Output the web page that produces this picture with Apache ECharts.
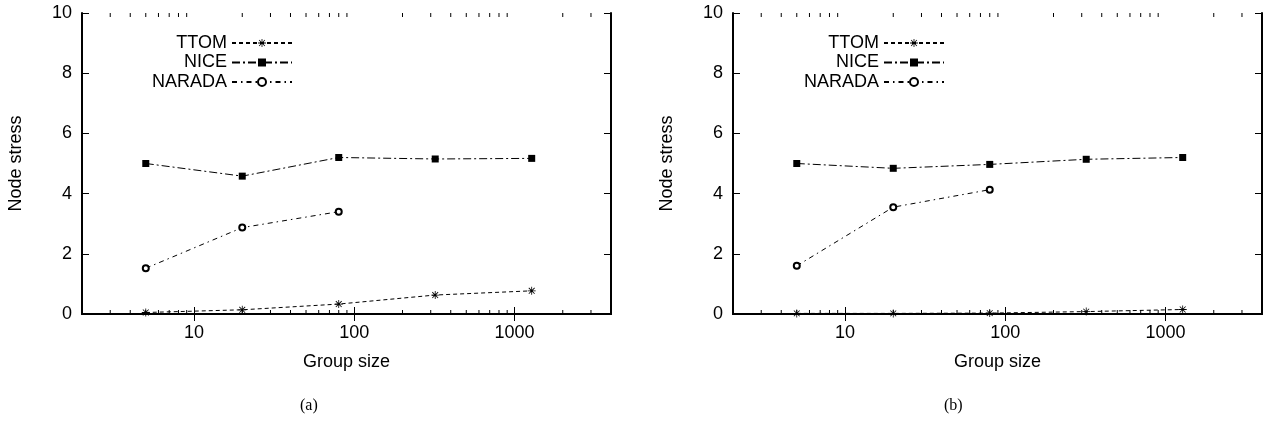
<!DOCTYPE html>
<html>
<head>
<meta charset="utf-8">
<script src="https://cdn.jsdelivr.net/npm/echarts@6/dist/echarts.min.js"></script>
<style>
  html, body { margin: 0; padding: 0; background: #fff; }
  #chart { width: 1265px; height: 424px; }
</style>
</head>
<body>
<div id="chart"></div>
<script>
// group sizes (x, log scale)
const groupSizes = [5, 20, 80, 320, 1280];
const naradaSizes = [5, 20, 80];

// panel (a)
const ttomA = [0.05, 0.14, 0.33, 0.63, 0.77];
const niceA = [5.0, 4.58, 5.2, 5.15, 5.17];
const naradaA = [1.52, 2.87, 3.4];

// panel (b)
const ttomB = [0.02, 0.02, 0.03, 0.08, 0.15];
const niceB = [5.0, 4.84, 4.97, 5.14, 5.2];
const naradaB = [1.6, 3.55, 4.13];

// ticks
const majorXTicks = [10, 100, 1000];
const minorXTicks = [3, 4, 5, 6, 7, 8, 9, 20, 30, 40, 50, 60, 70, 80, 90,
  200, 300, 400, 500, 600, 700, 800, 900, 2000, 3000];
const seriesNames = ['TTOM', 'NICE', 'NARADA'];
const captions = ['(a)', '(b)'];

const FONT = 'Liberation Sans, Arial, sans-serif';
const FS = 18;
const asterisk = 'path://M-0.5 -5L0.5 -5L0.5 5L-0.5 5Z M-5 -0.5L5 -0.5L5 0.5L-5 0.5Z ' +
  'M-4 -3.3L-3.3 -4L4 3.3L3.3 4Z M3.3 -4L4 -3.3L-3.3 4L-4 3.3Z';

const chart = echarts.init(document.getElementById('chart'));

const grids = [
  { left: 82, right: 654, top: 13, bottom: 110 },
  { left: 733, right: 3, top: 13, bottom: 110 },
];

const xAxes = [];
const yAxes = [];
const series = [];
const legends = [];

const pair = (xs, ys) => xs.map((x, i) => [x, ys[i]]);
const panels = [
  { ttom: ttomA, nice: niceA, narada: naradaA, legendRight: 967 },
  { ttom: ttomB, nice: niceB, narada: naradaB, legendRight: 315 },
];

// short log-spaced minor ticks on bottom and top edges
const minorTickItem = (params, api) => {
  const v = api.value(0);
  const b = api.coord([v, 0]);
  const t = api.coord([v, 10]);
  return {
    type: 'group',
    children: [
      { type: 'line', shape: { x1: b[0], y1: b[1], x2: b[0], y2: b[1] - 4 }, style: { stroke: '#000', lineWidth: 1 } },
      { type: 'line', shape: { x1: t[0], y1: t[1], x2: t[0], y2: t[1] + 4 }, style: { stroke: '#000', lineWidth: 1 } },
    ],
  };
};

panels.forEach((p, g) => {
  const base = { type: 'log', gridIndex: g, min: 2, max: 4000, logBase: 10, splitLine: { show: false } };
  xAxes.push(Object.assign({}, base, {
    position: 'bottom',
    axisLine: { show: true, lineStyle: { color: '#000', width: 2 } },
    axisTick: { inside: true, length: 7, customValues: majorXTicks, lineStyle: { color: '#000' } },
    axisLabel: {
      customValues: majorXTicks, color: '#000', fontSize: FS, fontFamily: FONT, margin: 10,
      formatter: (v) => String(v),
    },
    name: 'Group size', nameLocation: 'middle', nameGap: 39,
    nameTextStyle: { color: '#000', fontSize: FS, fontFamily: FONT },
  }));
  xAxes.push(Object.assign({}, base, {
    position: 'top',
    axisLine: { show: true, lineStyle: { color: '#000', width: 2 } },
    axisTick: { inside: true, length: 7, customValues: majorXTicks, lineStyle: { color: '#000' } },
    axisLabel: { show: false },
  }));

  yAxes.push({
    type: 'value', gridIndex: g, min: 0, max: 10, interval: 2, position: 'left',
    axisLine: { show: true, lineStyle: { color: '#000', width: 2 } },
    axisTick: { inside: true, length: 7, lineStyle: { color: '#000' } },
    axisLabel: { color: '#000', fontSize: FS, fontFamily: FONT, margin: 10 },
    splitLine: { show: false },
    name: 'Node stress', nameLocation: 'middle', nameGap: 57,
    nameTextStyle: { color: '#000', fontSize: FS, fontFamily: FONT },
  });
  yAxes.push({
    type: 'value', gridIndex: g, min: 0, max: 10, interval: 2, position: 'right',
    axisLine: { show: true, lineStyle: { color: '#000', width: 2 } },
    axisTick: { inside: true, length: 7, lineStyle: { color: '#000' } },
    axisLabel: { show: false },
    splitLine: { show: false },
  });

  const xi = g * 2;
  const yi = g * 2;
  series.push({
    type: 'custom', xAxisIndex: xi, yAxisIndex: yi, silent: true, clip: false,
    data: minorXTicks.map((v) => [v, 0]),
    renderItem: minorTickItem,
  });
  series.push({
    name: 'TTOM', type: 'line', xAxisIndex: xi, yAxisIndex: yi,
    data: pair(groupSizes, p.ttom),
    symbol: asterisk, symbolSize: 8,
    itemStyle: { color: '#000' },
    lineStyle: { color: '#000', width: 1, type: [4, 3] },
  });
  series.push({
    name: 'NICE', type: 'line', xAxisIndex: xi, yAxisIndex: yi,
    data: pair(groupSizes, p.nice),
    symbol: 'rect', symbolSize: 7,
    itemStyle: { color: '#000' },
    lineStyle: { color: '#000', width: 1, type: [8, 3, 2, 3] },
  });
  series.push({
    name: 'NARADA', type: 'line', xAxisIndex: xi, yAxisIndex: yi,
    data: pair(naradaSizes, p.narada),
    symbol: 'emptyCircle', symbolSize: 6,
    itemStyle: { color: '#000', borderWidth: 1 },
    lineStyle: { color: '#000', width: 1, type: [5, 4, 1.5, 4] },
  });

  legends.push({
    data: seriesNames, orient: 'vertical', align: 'right',
    right: p.legendRight, top: 29,
    itemWidth: 60, itemHeight: 10, itemGap: 1.5,
    selectedMode: false,
    textStyle: { color: '#000', fontSize: FS, fontFamily: FONT, lineHeight: 18 },
  });
});

chart.setOption({
  animation: false,
  backgroundColor: '#fff',
  grid: grids,
  xAxis: xAxes,
  yAxis: yAxes,
  legend: legends,
  series: series,
  graphic: [
    { type: 'text', left: 300, top: 398, style: { text: captions[0], fill: '#000', font: '16px "Liberation Serif", serif' } },
    { type: 'text', left: 944, top: 398, style: { text: captions[1], fill: '#000', font: '16px "Liberation Serif", serif' } },
  ],
});

window.addEventListener('resize', () => {
  chart.resize();
});
</script>
</body>
</html>
